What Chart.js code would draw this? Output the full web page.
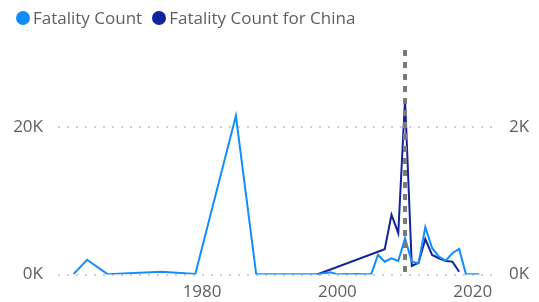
<!DOCTYPE html>
<html>
<head>
<meta charset="utf-8">
<script src="https://cdn.jsdelivr.net/npm/chart.js@4/dist/chart.umd.min.js"></script>
<style>
  html, body { margin: 0; padding: 0; background: #fff; }
  .wrap { position: relative; width: 539px; height: 302px; }
  .legend { position: absolute; left: 16px; top: 6px; font-family: "Open Sans", sans-serif; font-size: 17px; color: #605E5C; white-space: nowrap; }
  .legend span.item { display: inline-flex; align-items: center; margin-right: 10px; }
  .legend span.dot { width: 14px; height: 14px; border-radius: 50%; display: inline-block; margin-right: 3px; }
</style>
</head>
<body>
<div class="wrap">
  <canvas id="fatalityChart" width="539" height="302"></canvas>
  <div class="legend" id="legend"></div>
</div>
<script>
// all incidents
const allYears  = [1961, 1963, 1966, 1974, 1979, 1985, 1988, 1990, 1993, 1995, 1997, 1999, 2000, 2001, 2002, 2003, 2004, 2005,
                   2006, 2007, 2008, 2009, 2010, 2011, 2012, 2013, 2014, 2015, 2016, 2017, 2018, 2019, 2020, 2021];
const allCounts = [50, 2000, 50, 380, 80, 21500, 30, 20, 40, 20, 30, 300, 0, 60, 30, 80, 40, 30,
                   2650, 1740, 2200, 1840, 4900, 1740, 1520, 6420, 3600, 2420, 1880, 2880, 3470, 70, 30, 20];

// China only (right axis)
const chinaYears  = [1997, 2007, 2008, 2009, 2010, 2011, 2012, 2013, 2014, 2015, 2016, 2017, 2018];
const chinaCounts = [0, 343, 810, 560, 2375, 115, 160, 480, 265, 220, 184, 175, 38];

const xTicks = [1980, 2000, 2020];
const leftTicks = [0, 20000];
const rightTicks = [0, 2000];

const seriesNames = ['Fatality Count', 'Fatality Count for China'];
const seriesColors = ['#118DFF', '#12239E'];

const labelColor = '#605E5C';
const labelFont = { family: 'Open Sans', size: 17 };

// year of the China peak, marked with the dashed line
const peakYear = chinaYears[chinaCounts.indexOf(Math.max(...chinaCounts))];

const peakLine = {
    id: 'peakLine',
    afterDatasetsDraw(chart) {
        const { ctx, chartArea, scales } = chart;
        const x = scales.x.getPixelForValue(peakYear);
        ctx.save();
        ctx.strokeStyle = '#7a7a7a';
        ctx.lineWidth = 4;
        ctx.setLineDash([6, 6]);
        ctx.beginPath();
        ctx.moveTo(x, chartArea.top + 2);
        ctx.lineTo(x, chartArea.bottom);
        ctx.stroke();
        ctx.restore();
    }
};

// html legend
const legendEl = document.getElementById('legend');
seriesNames.forEach((name, i) => {
    const item = document.createElement('span');
    item.className = 'item';
    const dot = document.createElement('span');
    dot.className = 'dot';
    dot.style.background = seriesColors[i];
    item.appendChild(dot);
    item.appendChild(document.createTextNode(name));
    legendEl.appendChild(item);
});

const ctx = document.getElementById('fatalityChart').getContext('2d');
new Chart(ctx, {
    type: 'line',
    data: {
        datasets: [{
            label: seriesNames[0],
            data: allYears.map((y, i) => ({ x: y, y: allCounts[i] })),
            borderColor: seriesColors[0],
            borderWidth: 2,
            pointRadius: 0,
            yAxisID: 'y'
        }, {
            label: seriesNames[1],
            data: chinaYears.map((y, i) => ({ x: y, y: chinaCounts[i] })),
            borderColor: seriesColors[1],
            borderWidth: 2,
            pointRadius: 0,
            yAxisID: 'y2'
        }]
    },
    plugins: [peakLine],
    options: {
        responsive: false,
        animation: false,
        layout: { padding: { top: 48, left: 0, right: 0, bottom: 0 } },
        plugins: {
            legend: { display: false },
            tooltip: { enabled: false }
        },
        scales: {
            x: {
                type: 'linear',
                min: 1958.7,
                max: 2023.3,
                grid: { display: false, drawTicks: false },
                border: { display: false },
                afterBuildTicks: scale => { scale.ticks = xTicks.map(v => ({ value: v })); },
                afterFit: scale => { scale.height = 27.5; },
                ticks: {
                    color: labelColor,
                    font: labelFont,
                    padding: 7,
                    maxRotation: 0,
                    callback: v => String(v)
                }
            },
            y: {
                position: 'left',
                min: 0,
                max: 30700,
                grid: { color: '#d2d0ce', lineWidth: 2, drawTicks: false },
                border: { display: false, dash: [2, 7] },
                afterBuildTicks: scale => { scale.ticks = leftTicks.map(v => ({ value: v })); },
                afterFit: scale => { scale.width = 58; },
                ticks: {
                    color: labelColor,
                    font: labelFont,
                    padding: 15,
                    callback: v => (v / 1000) + 'K'
                }
            },
            y2: {
                position: 'right',
                min: 0,
                max: 3070,
                grid: { display: false, drawTicks: false },
                border: { display: false },
                afterBuildTicks: scale => { scale.ticks = rightTicks.map(v => ({ value: v })); },
                afterFit: scale => { scale.width = 44; },
                ticks: {
                    color: labelColor,
                    font: labelFont,
                    padding: 14,
                    callback: v => (v / 1000) + 'K'
                }
            }
        }
    }
});
</script>
</body>
</html>
